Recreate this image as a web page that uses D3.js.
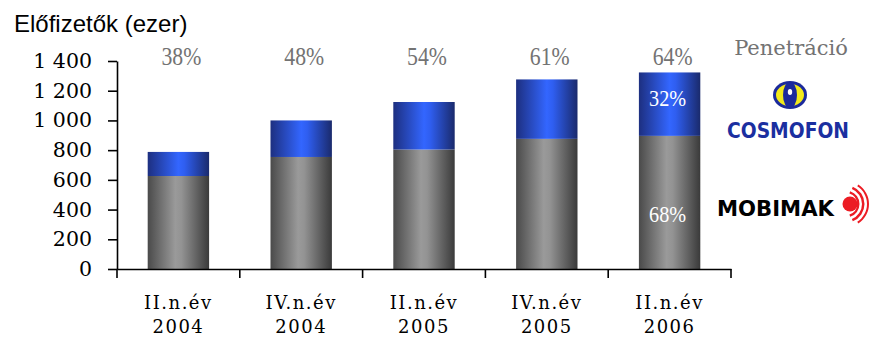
<!DOCTYPE html>
<html><head><meta charset="utf-8">
<script src="https://cdn.jsdelivr.net/npm/d3@7"></script>
<style>body{margin:0;background:#fff}</style>
</head><body><svg id="c" width="873" height="338"></svg>
<script>
// ---- data ----
const categories = [["II.n.év","2004"],["IV.n.év","2004"],["II.n.év","2005"],["IV.n.év","2005"],["II.n.év","2006"]];
const mobimak = [626, 754, 804, 876, 896];
const cosmofon = [162, 246, 320, 400, 427];
const penetration = ["38%","48%","54%","61%","64%"];
const yTicks = [0, 200, 400, 600, 800, 1000, 1200, 1400];
const shareCosmofon = "32%";
const shareMobimak = "68%";
const titleText = "Előfizetők (ezer)";
const penetrationTitle = "Penetráció";

const svg = d3.select("#c");
const defs = svg.append("defs");
function grad(id, stops){
  const g = defs.append("linearGradient").attr("id", id).attr("x1","0").attr("x2","1").attr("y1","0").attr("y2","0");
  stops.forEach(s => g.append("stop").attr("offset", s[0]).attr("stop-color", s[1]));
}
grad("gGray", [["0%","#4a4a4a"],["45%","#9a9a9a"],["55%","#939393"],["100%","#3a3a3a"]]);
grad("gBlue", [["0%","#1d2f80"],["50%","#3366ff"],["60%","#2f5ef0"],["100%","#1a2a6c"]]);

const idx = categories.map((d,i)=>i);
const x = d3.scaleBand().domain(idx).range([117, 731]).paddingInner(0.5).paddingOuter(0.25);
const y = d3.scaleLinear().domain([0, 1400]).range([269, 61]);

const rows = idx.map(i => ({i, mobimak: mobimak[i], cosmofon: cosmofon[i]}));
const stack = d3.stack().keys(["mobimak","cosmofon"])(rows);
const fills = {mobimak: "url(#gGray)", cosmofon: "url(#gBlue)"};

svg.append("g").selectAll("g").data(stack).join("g")
  .attr("fill", d => fills[d.key])
  .selectAll("rect").data(d => d).join("rect")
  .attr("x", d => x(d.data.i))
  .attr("width", x.bandwidth())
  .attr("y", d => y(d[1]))
  .attr("height", d => y(d[0]) - y(d[1]));

// y axis
const fmt = v => d3.format(",")(v).replace(/,/g, " ");
const yAxis = svg.append("g").attr("transform", "translate(117,0)")
  .call(d3.axisLeft(y).tickValues(yTicks).tickFormat(fmt).tickSize(9).tickSizeOuter(0).tickPadding(16));
yAxis.select(".domain").attr("stroke", "#000").attr("stroke-width", 1.6);
yAxis.selectAll(".tick line").attr("stroke", "#000").attr("stroke-width", 1.6);
yAxis.selectAll("text").attr("font-family", "DejaVu Serif").attr("font-size", 20.5).attr("fill", "#000");

// x axis
const xAxis = svg.append("g").attr("transform", "translate(0,269)")
  .call(d3.axisBottom(x).tickSize(0).tickSizeOuter(0).tickFormat(""));
xAxis.select(".domain").attr("stroke", "#000").attr("stroke-width", 1.6);
const bounds = idx.map(i => x(i) + x.bandwidth()/2 - x.step()/2).concat([x(idx.length-1) + x.bandwidth()/2 + x.step()/2]);
svg.append("g").selectAll("line").data(bounds).join("line")
  .attr("x1", d => d).attr("x2", d => d).attr("y1", 269).attr("y2", 278)
  .attr("stroke", "#000").attr("stroke-width", 1.6);
const cat = svg.append("g").selectAll("text").data(categories).join("text")
  .attr("font-family", "DejaVu Serif").attr("font-size", 18).attr("letter-spacing", 1.5)
  .attr("text-anchor", "middle").attr("fill", "#000");
cat.append("tspan").attr("x", (d,i) => x(i) + x.bandwidth()/2).attr("y", 309).text(d => d[0]);
cat.append("tspan").attr("x", (d,i) => x(i) + x.bandwidth()/2).attr("y", 333).text(d => d[1]);

// penetration labels
svg.append("g").selectAll("text").data(penetration).join("text")
  .attr("transform", (d,i) => `translate(${x(i) + x.bandwidth()/2 + 3},65) scale(0.87,1)`)
  .attr("text-anchor", "middle").attr("font-family", "Liberation Serif").attr("font-size", 25)
  .attr("fill", "#737373").text(d => d);
svg.append("text").attr("x", 791).attr("y", 55).attr("text-anchor", "middle")
  .attr("font-family", "DejaVu Serif").attr("font-size", 21).attr("fill", "#737373").text(penetrationTitle);

// share labels on last bar
const last = idx.length - 1;
const cx = x(last) + x.bandwidth()/2;
svg.append("text").attr("transform", `translate(${cx - 2},${y(mobimak[last] + cosmofon[last]) + 34}) scale(0.88,1)`)
  .attr("text-anchor", "middle").attr("font-family", "Liberation Serif").attr("font-size", 23)
  .attr("fill", "#fff").text(shareCosmofon);
svg.append("text").attr("transform", `translate(${cx - 2},${y(0) - 47}) scale(0.88,1)`)
  .attr("text-anchor", "middle").attr("font-family", "Liberation Serif").attr("font-size", 23)
  .attr("fill", "#fff").text(shareMobimak);

// title
svg.append("text").attr("x", 14).attr("y", 32).attr("font-family", "Liberation Sans").attr("font-size", 24)
  .attr("fill", "#000").text(titleText);

// COSMOFON logo
const lg = svg.append("g");
lg.append("ellipse").attr("cx", 790).attr("cy", 95).attr("rx", 17).attr("ry", 14).attr("fill", "#1b2a9c");
lg.append("ellipse").attr("cx", 790).attr("cy", 95).attr("rx", 14).attr("ry", 11).attr("fill", "#f2ea1c");
lg.append("ellipse").attr("cx", 790).attr("cy", 95).attr("rx", 7).attr("ry", 13).attr("fill", "#1b2a9c");
lg.append("ellipse").attr("cx", 790).attr("cy", 92).attr("rx", 2.2).attr("ry", 3).attr("fill", "#fff");
lg.append("text").attr("x", 727).attr("y", 138).attr("textLength", 122).attr("lengthAdjust", "spacingAndGlyphs")
  .attr("font-family", "DejaVu Sans").attr("font-weight", "bold").attr("font-size", 22)
  .attr("fill", "#1b2fa0").text("COSMOFON");

// MOBIMAK logo
lg.append("text").attr("x", 717).attr("y", 216).attr("textLength", 117).attr("lengthAdjust", "spacingAndGlyphs")
  .attr("font-family", "DejaVu Sans").attr("font-weight", "bold").attr("font-size", 22)
  .attr("fill", "#000").text("MOBIMAK");
lg.append("circle").attr("cx", 850).attr("cy", 204).attr("r", 7.5).attr("fill", "#ec1c24");
const arc = d3.arc();
[[11, 13.5, 0.1, 0.9], [16, 18.5, 0.12, 0.88], [21, 23, 0.18, 0.82]].forEach(r => {
  lg.append("path").attr("transform", "translate(846,204)")
    .attr("d", arc({innerRadius: r[0], outerRadius: r[1], startAngle: Math.PI*r[2], endAngle: Math.PI*r[3]}))
    .attr("fill", "#ec1c24");
});
</script>
</body></html>
